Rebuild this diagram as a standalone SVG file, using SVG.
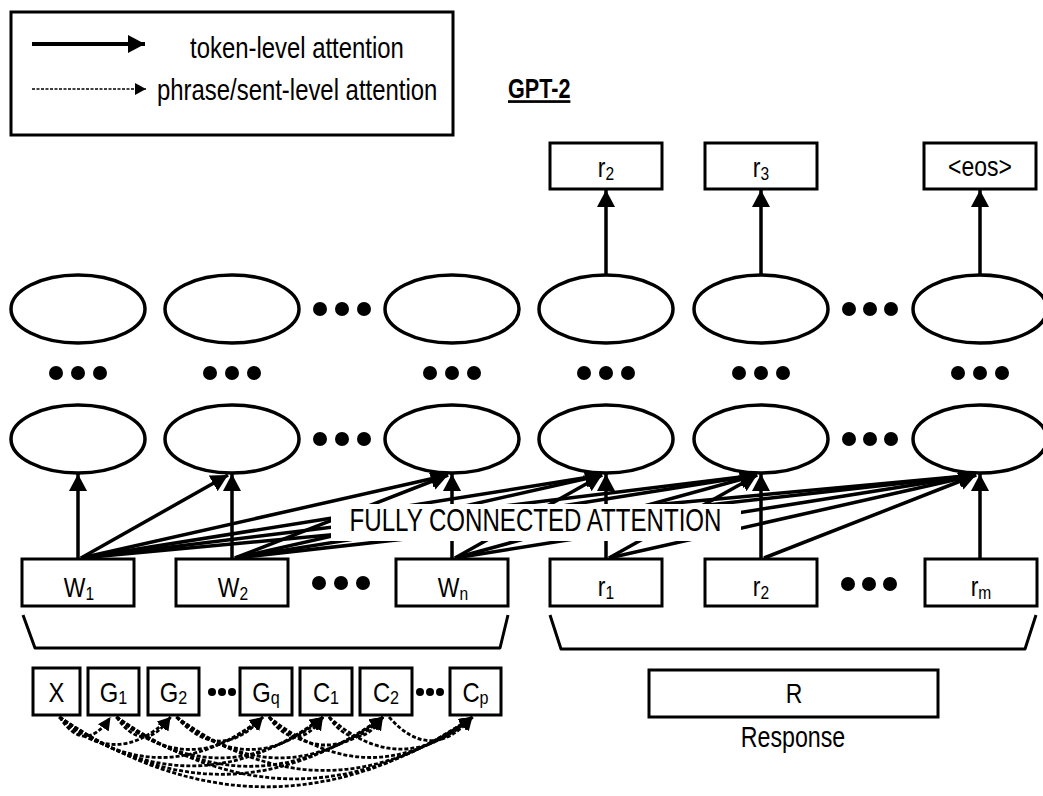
<svg xmlns="http://www.w3.org/2000/svg" width="1043" height="796" viewBox="0 0 1043 796">
<style>
  .t { font-family: "Liberation Sans", Arial, sans-serif; fill: #000; }
  .lbl { font-size: 28px; text-anchor: middle; }
  .sm { font-size: 28px; text-anchor: middle; }
  .sub { font-size: 19px; }
  .leg { font-size: 30px; }
  .box { fill: #fff; stroke: #000; stroke-width: 3; }
  .ell { fill: #fff; stroke: #000; stroke-width: 3.5; }
  .arr { fill: none; stroke: #000; stroke-width: 3.5; marker-end: url(#ah); }
  .dsh { fill: none; stroke: #000; stroke-width: 2.8; stroke-dasharray: 4 2; marker-end: url(#dh); }
  .brk { fill: none; stroke: #000; stroke-width: 3; stroke-linejoin: round; }
  .dot { fill: #000; }
</style>
<defs>
  <marker id="ah" markerUnits="userSpaceOnUse" markerWidth="18" markerHeight="18" viewBox="0 0 18 18" refX="17" refY="9" orient="auto">
    <path d="M0,0 L17,9 L0,18 z" fill="#000"/>
  </marker>
  <marker id="dh" markerUnits="userSpaceOnUse" markerWidth="14" markerHeight="13" viewBox="0 0 14 13" refX="13" refY="6.5" orient="auto">
    <path d="M0,0 L13,6.5 L0,13 z" fill="#000"/>
  </marker>
  <marker id="lh" markerUnits="userSpaceOnUse" markerWidth="12" markerHeight="12" viewBox="0 0 12 12" refX="11" refY="6" orient="auto">
    <path d="M0,0 L11,6 L0,12 z" fill="#000"/>
  </marker>
</defs>
<rect width="1043" height="796" fill="#fff"/>

<g id="legend">
  <rect x="11" y="12" width="442" height="123" fill="#fff" stroke="#000" stroke-width="3"/>
  <line x1="32" y1="44" x2="145" y2="44" stroke="#000" stroke-width="4" marker-end="url(#ah)"/>
  <text class="t leg" transform="translate(190,58) scale(0.797,1)">token-level attention</text>
  <line x1="32" y1="89" x2="146" y2="89" stroke="#000" stroke-width="1.5" stroke-dasharray="3 1.5" marker-end="url(#lh)"/>
  <text class="t leg" transform="translate(157,100) scale(0.797,1)">phrase/sent-level attention</text>
</g>

<g id="title">
  <text class="t" font-size="27" font-weight="bold" text-decoration="underline" transform="translate(508,98) scale(0.8,1)">GPT-2</text>
</g>

<g id="connectors">
  <line class="arr" x1="606" y1="275" x2="606" y2="190"/>
  <line class="arr" x1="761" y1="275" x2="761" y2="190"/>
  <line class="arr" x1="980" y1="275" x2="980" y2="190"/>
  <line class="arr" x1="78" y1="559" x2="78" y2="474"/>
  <line class="arr" x1="232" y1="559" x2="232" y2="474"/>
  <line class="arr" x1="452" y1="559" x2="452" y2="474"/>
  <line class="arr" x1="606" y1="559" x2="606" y2="474"/>
  <line class="arr" x1="761" y1="559" x2="761" y2="474"/>
  <line class="arr" x1="980" y1="559" x2="980" y2="474"/>
  <line class="arr" x1="81" y1="558" x2="228" y2="475"/>
  <line class="arr" x1="81" y1="558" x2="448" y2="475"/>
  <line class="arr" x1="81" y1="558" x2="602" y2="475"/>
  <line class="arr" x1="81" y1="558" x2="757" y2="475"/>
  <line class="arr" x1="81" y1="558" x2="976" y2="475"/>
  <line class="arr" x1="235" y1="558" x2="448" y2="475"/>
  <line class="arr" x1="235" y1="558" x2="602" y2="475"/>
  <line class="arr" x1="235" y1="558" x2="757" y2="475"/>
  <line class="arr" x1="235" y1="558" x2="976" y2="475"/>
  <line class="arr" x1="455" y1="558" x2="602" y2="475"/>
  <line class="arr" x1="455" y1="558" x2="757" y2="475"/>
  <line class="arr" x1="455" y1="558" x2="976" y2="475"/>
  <line class="arr" x1="609" y1="558" x2="757" y2="475"/>
  <line class="arr" x1="609" y1="558" x2="976" y2="475"/>
  <line class="arr" x1="764" y1="558" x2="976" y2="475"/>
  <path class="dsh" d="M59.5,717 Q85,755.3 110.5,717"/>
  <path class="dsh" d="M59.5,717 Q115,772 170.5,717"/>
  <path class="dsh" d="M59.5,717 Q161.25,798 263,717"/>
  <path class="dsh" d="M59.5,717 Q191.25,814.8 323,717"/>
  <path class="dsh" d="M59.5,717 Q221.25,831.6 383,717"/>
  <path class="dsh" d="M59.5,717 Q266,856.6 472.5,717"/>
  <path class="dsh" d="M116.5,717 Q143.5,756.1 170.5,717"/>
  <path class="dsh" d="M116.5,717 Q189.75,782 263,717"/>
  <path class="dsh" d="M116.5,717 Q219.75,798.8 323,717"/>
  <path class="dsh" d="M116.5,717 Q249.75,815.6 383,717"/>
  <path class="dsh" d="M116.5,717 Q294.5,840.7 472.5,717"/>
  <path class="dsh" d="M176.5,717 Q219.75,765.2 263,717"/>
  <path class="dsh" d="M176.5,717 Q249.75,782 323,717"/>
  <path class="dsh" d="M176.5,717 Q279.75,798.8 383,717"/>
  <path class="dsh" d="M176.5,717 Q324.5,823.9 472.5,717"/>
  <path class="dsh" d="M269,717 Q296,756.1 323,717"/>
  <path class="dsh" d="M269,717 Q326,773 383,717"/>
  <path class="dsh" d="M269,717 Q370.75,798 472.5,717"/>
  <path class="dsh" d="M329,717 Q356,756.1 383,717"/>
  <path class="dsh" d="M329,717 Q400.75,781.2 472.5,717"/>
  <path class="dsh" d="M389,717 Q430.75,764.4 472.5,717"/>
</g>

<g id="fc-label">
  <rect x="331" y="504" width="410" height="37" fill="#fff"/>
  <text class="t" font-size="31" text-anchor="middle" transform="translate(535.5,531) scale(0.777,1)">FULLY CONNECTED ATTENTION</text>
</g>

<g id="out-r2"><rect class="box" x="550" y="143" width="112" height="46"/><text class="t lbl" transform="translate(606,177) scale(0.82,1)">r<tspan class="sub" dy="3">2</tspan></text></g>
<g id="out-r3"><rect class="box" x="705" y="143" width="112" height="46"/><text class="t lbl" transform="translate(761,177) scale(0.82,1)">r<tspan class="sub" dy="3">3</tspan></text></g>
<g id="out-eos"><rect class="box" x="924" y="143" width="112" height="46"/><text class="t lbl" transform="translate(980,176) scale(0.82,1)">&lt;eos&gt;</text></g>

<g id="layer-top">
  <ellipse class="ell" cx="78" cy="309" rx="67" ry="34"/>
  <ellipse class="ell" cx="232" cy="309" rx="67" ry="34"/>
  <ellipse class="ell" cx="452" cy="309" rx="67" ry="34"/>
  <ellipse class="ell" cx="606" cy="309" rx="67" ry="34"/>
  <ellipse class="ell" cx="761" cy="309" rx="67" ry="34"/>
  <ellipse class="ell" cx="980" cy="309" rx="67" ry="34"/>
  <circle class="dot" cx="320" cy="309" r="7"/><circle class="dot" cx="342" cy="309" r="7"/><circle class="dot" cx="364" cy="309" r="7"/>
  <circle class="dot" cx="849" cy="309" r="7"/><circle class="dot" cx="870" cy="309" r="7"/><circle class="dot" cx="891" cy="309" r="7"/>
</g>

<g id="layer-dots">
  <circle class="dot" cx="56" cy="373" r="7"/><circle class="dot" cx="78" cy="373" r="7"/><circle class="dot" cx="100" cy="373" r="7"/>
  <circle class="dot" cx="210" cy="373" r="7"/><circle class="dot" cx="232" cy="373" r="7"/><circle class="dot" cx="254" cy="373" r="7"/>
  <circle class="dot" cx="430" cy="373" r="7"/><circle class="dot" cx="452" cy="373" r="7"/><circle class="dot" cx="474" cy="373" r="7"/>
  <circle class="dot" cx="584" cy="373" r="7"/><circle class="dot" cx="606" cy="373" r="7"/><circle class="dot" cx="628" cy="373" r="7"/>
  <circle class="dot" cx="739" cy="373" r="7"/><circle class="dot" cx="761" cy="373" r="7"/><circle class="dot" cx="783" cy="373" r="7"/>
  <circle class="dot" cx="958" cy="373" r="7"/><circle class="dot" cx="980" cy="373" r="7"/><circle class="dot" cx="1002" cy="373" r="7"/>
</g>

<g id="layer-bottom">
  <ellipse class="ell" cx="78" cy="439" rx="67" ry="34"/>
  <ellipse class="ell" cx="232" cy="439" rx="67" ry="34"/>
  <ellipse class="ell" cx="452" cy="439" rx="67" ry="34"/>
  <ellipse class="ell" cx="606" cy="439" rx="67" ry="34"/>
  <ellipse class="ell" cx="761" cy="439" rx="67" ry="34"/>
  <ellipse class="ell" cx="980" cy="439" rx="67" ry="34"/>
  <circle class="dot" cx="320" cy="439" r="7"/><circle class="dot" cx="342" cy="439" r="7"/><circle class="dot" cx="364" cy="439" r="7"/>
  <circle class="dot" cx="849" cy="439" r="7"/><circle class="dot" cx="870" cy="439" r="7"/><circle class="dot" cx="891" cy="439" r="7"/>
</g>

<g id="in-w1"><rect class="box" x="22" y="559" width="112" height="47"/><text class="t lbl" transform="translate(79,597) scale(0.82,1)">W<tspan class="sub" dy="3">1</tspan></text></g>
<g id="in-w2"><rect class="box" x="176" y="559" width="112" height="47"/><text class="t lbl" transform="translate(233,597) scale(0.82,1)">W<tspan class="sub" dy="3">2</tspan></text></g>
<g id="in-wn"><rect class="box" x="396" y="559" width="112" height="47"/><text class="t lbl" transform="translate(453,597) scale(0.82,1)">W<tspan class="sub" dy="3">n</tspan></text></g>
<g id="in-r1"><rect class="box" x="550" y="559" width="112" height="47"/><text class="t lbl" transform="translate(606,596) scale(0.82,1)">r<tspan class="sub" dy="3">1</tspan></text></g>
<g id="in-r2"><rect class="box" x="705" y="559" width="112" height="47"/><text class="t lbl" transform="translate(761,596) scale(0.82,1)">r<tspan class="sub" dy="3">2</tspan></text></g>
<g id="in-rm"><rect class="box" x="925" y="559" width="112" height="47"/><text class="t lbl" transform="translate(981,596) scale(0.82,1)">r<tspan class="sub" dy="3">m</tspan></text></g>
<g id="in-dots">
  <circle class="dot" cx="319" cy="583" r="7"/><circle class="dot" cx="341" cy="583" r="7"/><circle class="dot" cx="363" cy="583" r="7"/>
  <circle class="dot" cx="848" cy="584" r="7"/><circle class="dot" cx="869" cy="584" r="7"/><circle class="dot" cx="890" cy="584" r="7"/>
</g>

<g id="brackets">
  <polyline class="brk" points="23,615 35,648 500,648 508,615"/>
  <polyline class="brk" points="550,615 561,649 1025,649 1036,615"/>
</g>

<g id="ctx-x"><rect class="box" x="33" y="668" width="47" height="47"/><text class="t sm" transform="translate(56.5,702) scale(0.85,1)">X</text></g>
<g id="ctx-g1"><rect class="box" x="88" y="668" width="51" height="47"/><text class="t sm" transform="translate(113.5,702) scale(0.85,1)">G<tspan class="sub" dy="2">1</tspan></text></g>
<g id="ctx-g2"><rect class="box" x="148" y="668" width="51" height="47"/><text class="t sm" transform="translate(173.5,702) scale(0.85,1)">G<tspan class="sub" dy="2">2</tspan></text></g>
<g id="ctx-gq"><rect class="box" x="240" y="668" width="52" height="47"/><text class="t sm" transform="translate(266,702) scale(0.85,1)">G<tspan class="sub" dy="2">q</tspan></text></g>
<g id="ctx-c1"><rect class="box" x="300" y="668" width="52" height="47"/><text class="t sm" transform="translate(326,702) scale(0.85,1)">C<tspan class="sub" dy="2">1</tspan></text></g>
<g id="ctx-c2"><rect class="box" x="360" y="668" width="52" height="47"/><text class="t sm" transform="translate(386,702) scale(0.85,1)">C<tspan class="sub" dy="2">2</tspan></text></g>
<g id="ctx-cp"><rect class="box" x="450" y="668" width="51" height="47"/><text class="t sm" transform="translate(475.5,702) scale(0.85,1)">C<tspan class="sub" dy="2">p</tspan></text></g>
<g id="ctx-dots">
  <circle class="dot" cx="212" cy="692" r="4"/><circle class="dot" cx="222" cy="692" r="4"/><circle class="dot" cx="232" cy="692" r="4"/>
  <circle class="dot" cx="420" cy="692" r="4"/><circle class="dot" cx="430" cy="692" r="4"/><circle class="dot" cx="440" cy="692" r="4"/>
</g>

<g id="response">
  <rect class="box" x="649" y="670" width="289" height="47"/>
  <text class="t lbl" transform="translate(794,703) scale(0.82,1)">R</text>
  <text class="t" font-size="29" text-anchor="middle" transform="translate(793,747) scale(0.8,1)">Response</text>
</g>
</svg>
